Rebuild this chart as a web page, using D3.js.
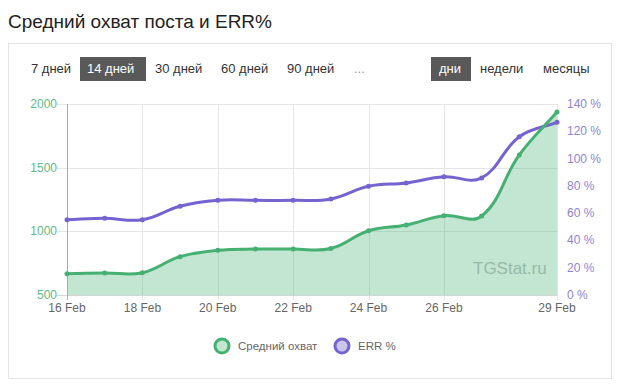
<!DOCTYPE html>
<html><head><meta charset="utf-8">
<script src="https://cdn.jsdelivr.net/npm/d3@7"></script>
<style>
html,body{margin:0;padding:0;background:#fff;}
svg{display:block;font-family:"Liberation Sans",Arial,sans-serif;}
</style></head>
<body><svg id="c" width="620" height="392"></svg>
<script>
const days = ["16 Feb","17 Feb","18 Feb","19 Feb","20 Feb","21 Feb","22 Feb","23 Feb","24 Feb","25 Feb","26 Feb","27 Feb","28 Feb","29 Feb"];
const reach = [667,673,675,801,851,861,861,865,1005,1050,1123,1120,1600,1937];
const errPct = [55.2,56.2,55.2,65,69.4,69.4,69.4,70.4,79.7,82.1,86.7,85.8,116,126.6];
const xTickLabels = ["16 Feb","18 Feb","20 Feb","22 Feb","24 Feb","26 Feb","29 Feb"];
const leftTicks = [500,1000,1500,2000];
const rightTicks = [0,20,40,60,80,100,120,140];
const periodButtons = ["7 дней","14 дней","30 дней","60 дней","90 дней","..."];
const unitButtons = ["дни","недели","месяцы"];
const seriesNames = ["Средний охват","ERR %"];

const svg = d3.select("#c");
const green = "#45b072", greenFill = "rgba(69,176,114,0.32)", purple = "#7563cf";

// title
svg.append("text").attr("x",8).attr("y",28).attr("font-size",19).attr("fill","#222")
  .text("Средний охват поста и ERR%");
// panel box
svg.append("rect").attr("x",8.5).attr("y",43.5).attr("width",603).attr("height",335)
  .attr("fill","#fff").attr("stroke","#e3e3e3");

// buttons
const periodX = [31,87,155,221,287,354];
periodButtons.forEach((t,i)=>{
  if(i===1){
    svg.append("rect").attr("x",80).attr("y",57).attr("width",66).attr("height",24).attr("fill","#595959");
  }
  svg.append("text").attr("x",periodX[i]).attr("y",73).attr("font-size",13)
    .attr("fill", i===1?"#fff":(i===5?"#999":"#333")).text(t);
});
const unitX = [439,480,543];
unitButtons.forEach((t,i)=>{
  if(i===0){
    svg.append("rect").attr("x",431).attr("y",57).attr("width",40).attr("height",24).attr("fill","#595959");
  }
  svg.append("text").attr("x",unitX[i]).attr("y",73).attr("font-size",13)
    .attr("fill", i===0?"#fff":"#333").text(t);
});

// scales
const x = d3.scalePoint().domain(days).range([67,557]);
const yL = d3.scaleLinear().domain([500,2000]).range([295,104]);
const yR = d3.scaleLinear().domain([0,140]).range([295,104]);

// Chart.js-style spline (tension 0.4) through pixel points
function splinePath(pts, closeToY){
  const t = 0.4, n = pts.length, top = 104, bottom = 295;
  const cps = pts.map((p,i)=>{
    const prev = pts[i-1] || p, next = pts[i+1] || p;
    const d01 = Math.hypot(p[0]-prev[0], p[1]-prev[1]);
    const d12 = Math.hypot(next[0]-p[0], next[1]-p[1]);
    let s01 = d01/(d01+d12), s12 = d12/(d01+d12);
    if(!isFinite(s01)) s01 = 0; if(!isFinite(s12)) s12 = 0;
    const fa = t*s01, fb = t*s12;
    const cap = v => Math.max(top, Math.min(bottom, v));
    return {
      px: p[0]-fa*(next[0]-prev[0]), py: cap(p[1]-fa*(next[1]-prev[1])),
      nx: p[0]+fb*(next[0]-prev[0]), ny: cap(p[1]+fb*(next[1]-prev[1]))
    };
  });
  const path = d3.path();
  path.moveTo(pts[0][0], pts[0][1]);
  for(let i=1;i<n;i++){
    path.bezierCurveTo(cps[i-1].nx, cps[i-1].ny, cps[i].px, cps[i].py, pts[i][0], pts[i][1]);
  }
  if(closeToY !== undefined){
    path.lineTo(pts[n-1][0], closeToY);
    path.lineTo(pts[0][0], closeToY);
    path.closePath();
  }
  return path.toString();
}
const reachPts = reach.map((d,i)=>[x(days[i]), yL(d)]);
const errPts = errPct.map((d,i)=>[x(days[i]), yR(d)]);

// grid
const g = svg.append("g");
g.selectAll(".hg").data(leftTicks.slice(1)).join("line")
  .attr("x1",57).attr("x2",557).attr("y1",d=>Math.round(yL(d))+0.5).attr("y2",d=>Math.round(yL(d))+0.5)
  .attr("stroke","#e6e6e6");
g.selectAll(".vg").data(xTickLabels).join("line")
  .attr("x1",d=>Math.round(x(d))+0.5).attr("x2",d=>Math.round(x(d))+0.5).attr("y1",104).attr("y2",300)
  .attr("stroke","#e6e6e6");

// watermark
svg.append("text").attr("x",473).attr("y",274).attr("font-size",17).attr("fill","#bdbdbd").text("TGStat.ru");

// area
svg.append("path").attr("d", splinePath(reachPts, yL(500))).attr("fill",greenFill);
// axis lines
svg.append("line").attr("x1",57).attr("x2",557).attr("y1",295.5).attr("y2",295.5).attr("stroke","#d5d5d5");
svg.append("line").attr("x1",67.5).attr("x2",67.5).attr("y1",104).attr("y2",300).attr("stroke","#aaa");

// purple line
svg.append("path").attr("d", splinePath(errPts))
  .attr("fill","none").attr("stroke",purple).attr("stroke-width",3);
svg.selectAll(".pp").data(errPct).join("circle")
  .attr("cx",(d,i)=>x(days[i])).attr("cy",d=>yR(d)).attr("r",2.5).attr("fill",purple);
// green line
svg.append("path").attr("d", splinePath(reachPts))
  .attr("fill","none").attr("stroke",green).attr("stroke-width",3);
svg.selectAll(".gp").data(reach).join("circle")
  .attr("cx",(d,i)=>x(days[i])).attr("cy",d=>yL(d)).attr("r",2.5).attr("fill",green);

// axes labels
svg.selectAll(".yl").data(leftTicks).join("text")
  .attr("x",57).attr("y",d=>yL(d)+4).attr("text-anchor","end").attr("font-size",12)
  .attr("fill","#5dbb85").text(d=>d);
svg.selectAll(".yr").data(rightTicks).join("text")
  .attr("x",567).attr("y",d=>yR(d)+4).attr("font-size",12)
  .attr("fill","#8d84d6").text(d=>d+" %");
svg.selectAll(".xl").data(xTickLabels).join("text")
  .attr("x",d=>x(d)).attr("y",312).attr("text-anchor","middle").attr("font-size",12)
  .attr("fill","#666").text(d=>d);

// legend
const legX = [222,342];
const legCol = [[green,"#c3e6d1"],[purple,"#cbc6ee"]];
seriesNames.forEach((n,i)=>{
  svg.append("circle").attr("cx",legX[i]).attr("cy",346).attr("r",7)
    .attr("fill",legCol[i][1]).attr("stroke",legCol[i][0]).attr("stroke-width",3);
  svg.append("text").attr("x",legX[i]+16).attr("y",350).attr("font-size",11.5).attr("fill","#666").text(n);
});
</script></body></html>
